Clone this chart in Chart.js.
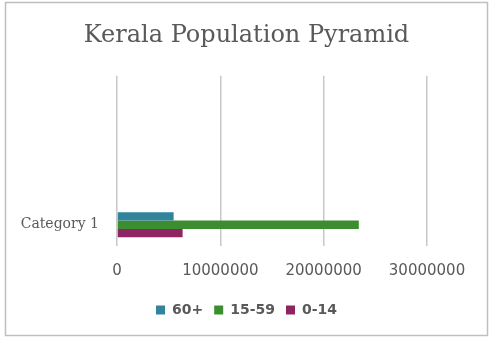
<!DOCTYPE html>
<html>
<head>
<meta charset="utf-8">
<script src="https://cdn.jsdelivr.net/npm/chart.js@4/dist/chart.umd.min.js"></script>
<style>
  html, body { margin: 0; padding: 0; background: #fff; }
  #wrap { position: relative; width: 493px; height: 342px; }
</style>
</head>
<body>
<div id="wrap"><canvas id="c" width="493" height="342"></canvas></div>
<script>
const categories = ['Category 1', '', '', ''];
const seriesNames = ['60+', '15-59', '0-14'];
const values60plus = [5480000, null, null, null];
const values15to59 = [23400000, null, null, null];
const values0to14 = [6350000, null, null, null];
const xTickValues = [0, 10000000, 20000000, 30000000];
const seriesColors = ['#31849B', '#3C8D2F', '#8E2562'];

const borderPlugin = {
  id: 'outerBorder',
  beforeDraw(chart) {
    const ctx = chart.ctx;
    ctx.save();
    ctx.fillStyle = '#ffffff';
    ctx.fillRect(0, 0, chart.width, chart.height);
    ctx.strokeStyle = '#BFBFBF';
    ctx.lineWidth = 1.5;
    ctx.strokeRect(5.5, 2.5, 482, 333);
    ctx.restore();
  }
};

new Chart(document.getElementById('c'), {
  type: 'bar',
  data: {
    labels: categories,
    datasets: [
      { label: seriesNames[0], data: values60plus, backgroundColor: seriesColors[0] },
      { label: seriesNames[1], data: values15to59, backgroundColor: seriesColors[1] },
      { label: seriesNames[2], data: values0to14, backgroundColor: seriesColors[2] }
    ]
  },
  options: {
    indexAxis: 'y',
    responsive: false,
    animation: false,
    devicePixelRatio: 1,
    categoryPercentage: 0.59,
    barPercentage: 1,
    layout: { padding: { left: 0, right: 0, top: 0, bottom: 15 } },
    plugins: {
      tooltip: { enabled: false },
      title: {
        display: true,
        text: 'Kerala Population Pyramid',
        color: '#595959',
        font: { family: 'DejaVu Serif', size: 24, weight: 'normal' },
        padding: { top: 21, bottom: 26 }
      },
      legend: {
        position: 'bottom',
        labels: {
          color: '#595959',
          font: { family: 'DejaVu Sans', size: 14, weight: 'bold' },
          boxWidth: 9,
          boxHeight: 9,
          padding: 11
        }
      }
    },
    scales: {
      x: {
        min: 0,
        max: 30000000,
        afterBuildTicks(scale) { scale.ticks = xTickValues.map(v => ({ value: v })); },
        afterFit(scale) { scale.height -= 4; },
        ticks: {
          color: '#595959',
          font: { family: 'DejaVu Sans', size: 15 },
          padding: 16,
          maxRotation: 0,
          callback: v => String(v)
        },
        grid: { color: '#C8C8C8', lineWidth: 1.5, drawTicks: false },
        border: { display: false }
      },
      y: {
        reverse: true,
        afterFit(scale) { scale.width = 117; },
        ticks: {
          color: '#595959',
          font: { family: 'DejaVu Serif', size: 14 },
          padding: 18
        },
        grid: { display: false, drawTicks: false },
        border: { display: false }
      },
      yRight: {
        type: 'category',
        axis: 'y',
        position: 'right',
        labels: categories,
        afterFit(scale) { scale.width = 66; },
        ticks: { display: false },
        grid: { display: false, drawTicks: false },
        border: { display: false }
      }
    }
  },
  plugins: [borderPlugin]
});
</script>
</body>
</html>
